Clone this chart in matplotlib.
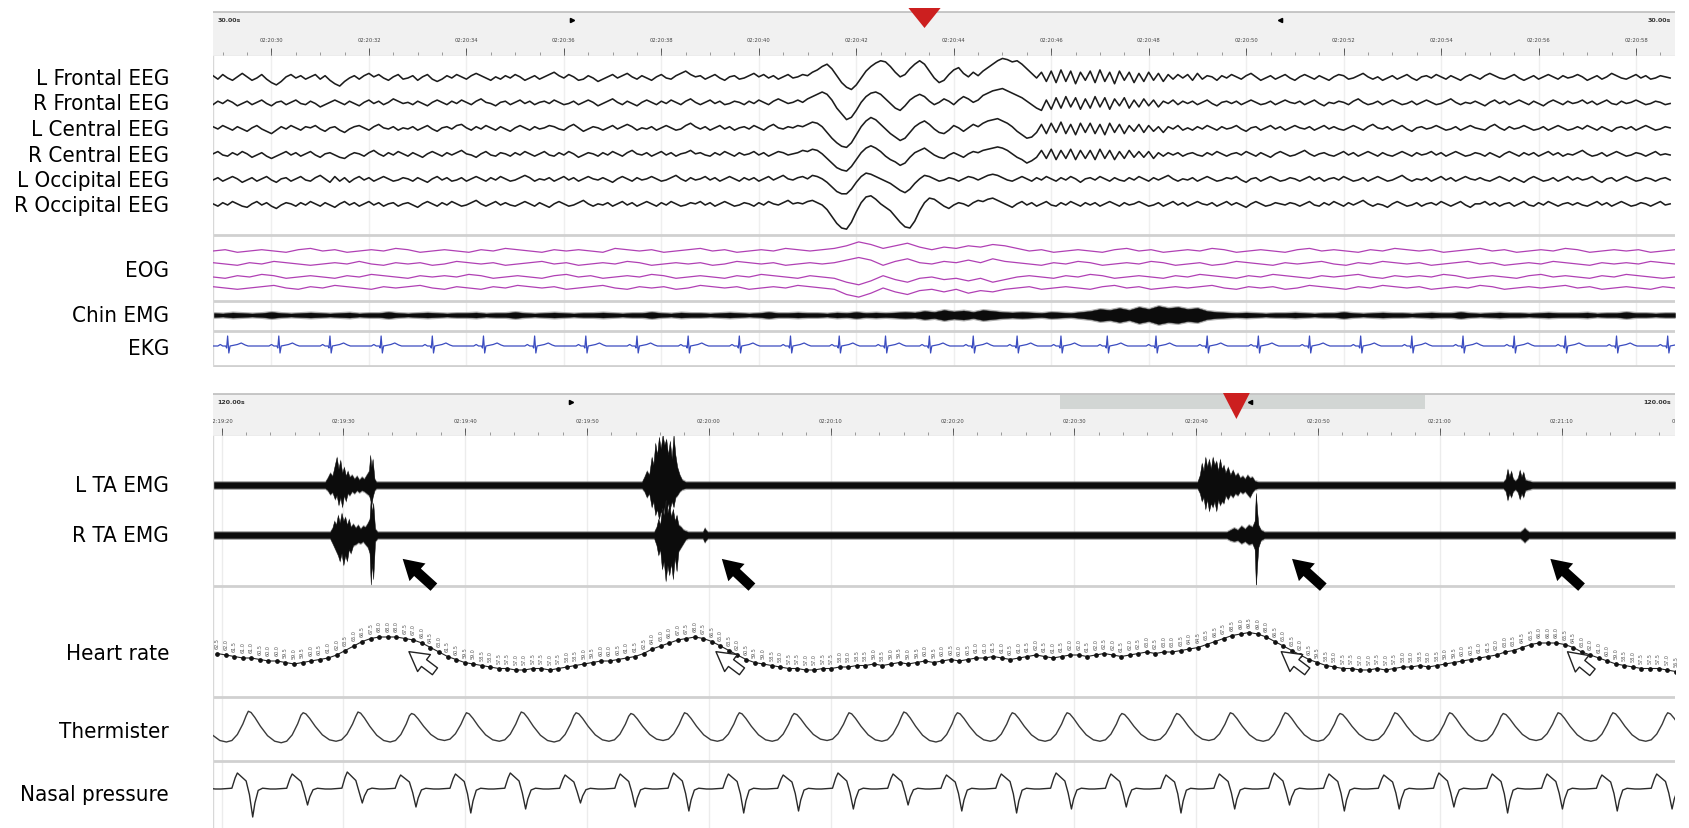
import numpy as np
import matplotlib.pyplot as plt
from matplotlib.patches import Polygon, Rectangle, FancyArrowPatch

plt.rcParams['font.family'] = ['DejaVu Sans']

# ---------------- data ----------------
top_labels = ['L Frontal EEG', 'R Frontal EEG', 'L Central EEG', 'R Central EEG',
              'L Occipital EEG', 'R Occipital EEG', 'EOG', 'Chin EMG', 'EKG']
bot_labels = ['L TA EMG', 'R TA EMG', 'Heart rate', 'Thermister', 'Nasal pressure']

# 30 s epoch, EEG one value every 0.1 s (up = positive, ~pixels)
eeg_lf = [2,-1,3,0,-2,1,4,1,-2,0, 3,-1,-4,-6,-3,1,3,0,2,-1, 1,3,-1,2,-2,-5,-7,-3,0,2,
          -1,2,4,1,3,0,-2,1,3,-1, 0,2,-2,1,3,-1,-3,-1,2,0, 3,1,-1,2,4,2,0,-2,1,-1,
          2,0,3,1,-2,0,2,-1,1,3, 5,2,0,3,1,-2,-1,2,0,-3, -1,1,3,0,2,4,1,-1,2,0,
          -2,1,3,0,-1,2,4,6,3,1, 2,-1,1,3,0,-2,1,2,-1,0, 2,4,1,3,0,2,-1,1,3,0,
          1,3,2,5,7,10,12,8,2,-4, -8,-10,-6,0,6,10,13,15,14,10, 5,1,3,8,12,15,12,6,0,-4,
          -2,3,7,9,4,1,5,2,6,9, 12,15,17,16,14,15,12,8,4,0, 5,-3,6,-4,7,-3,6,-5,5,-2,
          6,-4,7,-3,5,-5,6,-2,5,-4, 4,-3,5,-2,4,-3,3,-1,3,0, 3,-2,4,-1,2,1,-2,2,0,3,
          1,-1,2,4,1,-2,0,2,-1,1, 3,0,-2,1,3,1,-1,2,0,-2, 1,3,2,-1,0,2,4,1,-1,1,
          -2,0,2,-1,1,3,0,-2,1,2, 0,3,1,-1,2,0,-2,1,3,1, -1,2,4,2,0,-1,1,3,0,-2,
          0,2,-1,1,3,1,-1,2,0,1, 3,1,-2,0,2,-1,1,4,2,0, -1,1,3,0,2,-1,0,2,1,0]
eeg_rf = [-1,2,0,3,1,-2,0,2,-1,1, 3,0,-2,1,2,-1,1,3,0,-1, 2,0,-3,-1,1,3,1,-1,2,0,
          -2,1,3,0,2,-1,1,4,2,0, 1,-1,2,0,-2,1,3,1,-1,2, 0,3,1,-1,2,4,1,0,-2,1,
          2,-1,1,3,0,2,-1,1,2,0, 3,1,-1,0,2,-1,1,3,1,-2, 0,2,4,1,-1,2,0,-2,1,3,
          1,-1,2,0,3,1,-1,2,4,1, -1,1,3,0,2,-1,0,2,1,-1, 2,0,3,1,-1,2,4,2,0,1,
          3,1,4,6,8,10,8,3,-4,-9, -14,-12,-6,1,6,9,10,8,4,0, -4,-6,-2,3,6,8,6,2,-1,1,
          4,2,-1,3,6,4,1,3,7,9, 11,12,13,11,9,7,5,2,-1,-4, -6,3,-5,5,-4,6,-3,5,-5,4,
          -4,6,-3,5,-5,4,-2,5,-4,3, -3,4,-2,3,-3,2,0,3,-1,2, 0,2,-1,1,3,0,-2,1,2,0,
          2,-1,1,3,1,-1,0,2,-1,1, 3,1,0,2,-1,1,3,0,-2,1, 0,2,1,-1,2,4,1,-1,0,2,
          -1,1,3,1,-1,0,2,-1,1,3, 1,-1,0,2,4,1,-1,1,0,2, 0,-2,1,3,0,2,-1,1,3,1,
          -1,2,0,-2,1,3,1,-1,2,0, 1,3,0,2,-1,1,3,0,-1,2, 0,1,3,1,-1,0,2,1,-1,0]
eeg_lc = [2,0,3,1,-1,2,0,-2,1,3, 0,-2,-4,-1,2,0,3,1,-1,2, 1,3,0,-2,1,2,-1,-3,0,2,
          3,1,-1,2,4,1,0,2,-1,1, 0,2,-1,1,3,0,-2,1,2,0, 3,4,1,-1,2,0,3,1,-1,2,
          0,-2,1,3,1,-1,2,0,1,3, 2,0,-1,2,4,1,-2,0,2,1, -1,1,3,0,2,4,2,-1,1,0,
          2,-1,1,3,1,-1,0,3,5,2, 0,2,-1,1,3,0,2,-1,1,2, 0,3,1,-1,2,4,1,0,2,1,
          3,2,4,6,5,2,-3,-8,-12,-15, -16,-12,-5,2,7,10,8,4,0,-4, -7,-10,-8,-3,2,5,7,4,0,-3,
          -4,-1,3,1,-2,1,4,2,5,7, 8,9,7,5,2,-2,-5,-8,-7,-3, 4,-4,5,-3,6,-4,4,-5,5,-3,
          5,-4,4,-5,5,-3,4,-4,3,-2, 4,-3,3,-2,2,-3,2,0,3,-1, 1,-1,2,0,3,1,-1,2,0,1,
          3,0,-2,1,2,-1,1,3,0,2, -1,1,3,1,0,2,-1,1,3,0, 2,0,-1,1,3,1,-1,2,4,1,
          0,2,-1,1,3,0,-2,1,2,0, 1,3,1,-1,0,2,-1,1,3,1, 0,-1,2,4,1,-1,2,0,1,3,
          1,-1,0,2,-1,1,3,1,-1,0, 2,0,3,1,-1,2,0,-2,1,2, 0,2,-1,1,3,1,-1,0,2,1]
eeg_rc = [1,3,0,-1,2,0,3,1,-2,0, 2,-1,-3,-1,1,3,0,2,-1,1, 3,0,-2,1,2,0,-2,-3,0,2,
          1,-1,2,4,1,-1,2,0,3,1, -1,2,0,-2,1,3,1,-1,2,0, 2,4,1,0,-2,1,3,0,-1,2,
          1,-1,2,0,3,1,-1,1,3,0, -1,2,0,3,1,-2,0,2,1,-1, 2,0,3,1,-1,2,4,1,0,2,
          -1,1,3,0,2,-1,1,2,4,1, 2,0,-1,2,0,3,1,-1,2,0, 1,3,0,2,-1,1,3,2,0,1,
          2,4,3,5,4,1,-3,-7,-11,-13, -14,-10,-4,2,6,8,6,3,-1,-4, -6,-9,-7,-2,2,4,6,3,0,-2,
          -3,0,2,0,-2,1,3,2,4,5, 6,7,6,4,1,-2,-4,-7,-5,-2, 4,-3,5,-4,4,-3,5,-4,4,-3,
          4,-4,5,-3,4,-4,3,-3,4,-2, 3,-2,3,-3,2,-1,2,0,2,-1, 1,2,0,-1,2,0,3,1,-1,1,
          2,0,3,1,-1,2,0,-2,1,3, 1,-1,0,2,4,1,-1,1,2,0, -1,1,3,0,2,-1,1,3,1,-1,
          2,0,-1,1,3,1,-1,2,0,1, 3,0,2,-1,1,3,1,-1,0,2, 1,-1,2,0,-2,1,3,1,-1,2,
          0,2,-1,1,3,0,2,-1,1,0, 2,4,1,-1,0,2,-1,1,3,1, -1,0,2,1,-1,1,3,0,1,0]
eeg_lo = [0,2,-1,1,3,1,-2,0,2,-1, 1,3,0,-2,1,2,-1,1,3,0, -1,2,4,1,-2,3,-1,2,-2,1,
          3,0,2,-1,1,3,1,-1,0,2, 1,-1,2,0,-2,1,3,0,2,-1, 0,2,-1,1,3,1,-1,2,0,3,
          1,-1,0,2,4,2,-1,1,0,2, -1,1,3,0,2,-1,1,3,1,0, 2,0,-2,1,3,1,-1,2,0,1,
          3,1,-1,0,2,4,1,-1,2,0, 1,3,0,2,-1,1,3,1,-1,2, 0,2,-1,1,3,0,2,4,1,0,
          2,3,1,4,3,1,-2,-6,-10,-12, -12,-8,-2,3,6,5,3,1,-1,-3, -6,-9,-11,-8,-3,1,4,3,1,-1,
          0,2,1,-1,1,3,2,0,2,4, 5,4,2,0,-1,1,3,1,-1,2, 0,3,1,-1,2,0,3,1,-2,1,
          2,0,3,1,-1,2,0,-1,2,0, 3,1,-1,2,0,2,4,1,-1,1, 0,2,-1,1,3,1,-1,0,2,1,
          3,0,-2,1,2,-1,1,3,1,-1, 0,2,1,-1,1,3,0,2,-1,1, 2,0,3,1,-1,0,2,-1,1,3,
          1,-1,0,2,4,1,-1,1,0,2, -1,1,3,0,2,-1,1,3,1,0, 2,0,-1,1,3,1,-1,2,0,-2,
          1,3,1,-1,0,2,-1,1,3,0, 2,0,1,3,0,-2,1,2,-1,1, 3,1,-1,0,2,1,-1,1,2,0]
eeg_ro = [1,-1,2,0,3,1,-1,-2,1,3, 0,2,-1,-3,0,2,1,-1,2,0, 3,1,-1,2,0,-2,1,3,0,2,
          -1,1,3,0,2,-1,1,2,-1,1, 2,0,-2,1,3,1,-1,2,0,3, 1,-1,0,2,4,1,-1,1,3,0,
          2,0,-1,1,3,1,-1,2,0,-2, 1,3,1,-1,0,2,4,1,-1,1, 0,2,-1,1,3,0,2,-1,1,3,
          1,-1,2,0,3,1,-1,0,2,1, 3,0,2,-1,1,3,1,-1,0,2, 1,-1,2,0,3,1,0,2,4,1,
          2,1,3,4,2,0,-4,-10,-16,-20, -21,-15,-6,2,7,8,5,1,-2,-5, -10,-15,-19,-20,-14,-5,2,6,5,2,
          -1,-3,0,2,1,-1,2,4,3,5, 6,4,2,0,-2,1,3,0,2,-1, 1,3,0,-1,2,0,3,1,-1,2,
          0,2,-1,1,3,1,-1,2,0,1, 3,1,-1,0,2,-1,1,3,0,2, -1,1,3,1,0,2,-1,1,3,0,
          2,0,-2,1,3,1,-1,0,2,1, 0,2,1,-1,1,3,0,-1,2,0, 3,1,-1,2,0,2,4,1,-1,1,
          0,-2,1,3,1,-1,0,2,-1,1, 2,0,3,1,-1,1,3,0,-2,1, 1,3,0,2,-1,1,2,-1,1,3,
          0,-1,2,0,3,1,-1,1,2,0, 2,0,-1,1,3,0,2,-1,1,3, 1,-1,0,2,1,-1,1,3,0,1]

# EOG, one value every 0.25 s
eog_1 = [0,1,-1,0,1,0,-1,1,2,0, 1,-1,0,1,0,2,1,-1,0,1, 0,-1,1,0,2,1,0,-1,1,0, 1,0,-1,2,1,0,1,-1,0,1,
         2,0,1,-1,0,1,0,2,1,0, 1,2,4,7,5,2,4,6,3,1, 3,2,4,3,5,4,2,0,1,-1, 0,1,0,-1,1,2,0,1,-1,0,
         1,0,2,1,-1,0,1,0,-1,1, 2,0,1,0,-1,1,0,2,1,0, 1,-1,0,1,2,0,1,-1,0,1, 0,2,1,-1,0,1,0,1,-1,0, 1]
eog_2 = [1,0,-1,1,0,2,1,0,-1,0, 1,0,2,0,-1,1,0,1,-1,0, 2,1,0,1,-1,0,1,2,0,1, -1,0,1,0,2,1,-1,0,1,0,
         1,-1,0,2,1,0,1,-1,0,1, 0,1,3,5,3,-1,2,4,1,0, 2,1,3,1,4,2,1,0,-1,1, 0,2,1,-1,0,1,0,2,1,-1,
         0,1,-1,0,2,1,0,-1,1,0, 1,2,0,-1,1,0,2,1,0,1, -1,0,1,2,0,1,-1,0,1,0, 2,1,0,-1,1,0,1,0,2,1, 0]
eog_3 = [0,-1,1,0,2,1,-1,0,1,0, -1,1,0,2,1,0,-1,1,0,1, 0,2,1,-1,0,1,0,-1,1,2, 0,1,-1,0,1,0,2,1,-1,0,
         1,0,-1,1,0,2,1,0,-1,1, 0,-1,-4,-6,-3,1,-2,-4,-1,0, -2,-1,-3,-1,-4,-2,0,1,0,-1, 1,0,2,1,-1,0,1,0,-1,1,
         0,2,1,0,-1,1,0,2,1,0, -1,1,0,1,2,0,-1,1,0,1, 0,2,1,-1,0,1,0,-1,1,2, 0,1,0,-1,1,0,2,1,0,-1, 0]
eog_4 = [1,0,-1,0,1,2,0,-1,1,0, 2,1,0,-1,1,0,1,2,0,-1, 1,0,-1,1,0,2,1,0,1,-1, 0,1,2,0,-1,1,0,1,-1,0,
         2,1,0,1,-1,0,1,0,2,1, 0,-1,-5,-7,-4,0,-3,-5,-2,-1, -3,-1,-4,-2,-3,-1,0,1,-1,0, 1,0,-1,1,2,0,1,-1,0,1,
         0,1,2,0,-1,1,0,1,-1,0, 2,1,0,-1,1,0,2,1,0,1, -1,0,1,0,2,1,-1,0,1,0, 1,2,0,1,-1,0,1,0,-1,1, 0]

# chin EMG envelope (half width), every 0.2 s
chin_env = [2,1.5,2.5,2,1.5,2,3,2,1.5,2, 2.5,2,1.5,2,2.5,1.5,2,2,3,2, 1.5,2,2.5,2,1.5,2,2,2.5,1.5,2,
            2,3,2,1.5,2,2.5,2,1.5,2,2, 2.5,2,1.5,2,2,3,2,1.5,2.5,2, 2,1.5,2,2.5,2,1.5,2,3,2,2,
            2.5,2,2,1.5,2.5,2,3,2,2.5,2, 2.5,3,2.5,4,3,5,3.5,4.5,3,5, 4,3,2.5,3,2.5,2,3,2.5,2,3,
            4,6,5,7,5,8,6,9,7,8, 6,7,4,3,2.5,2,2.5,2,1.5,2, 2,2.5,2,1.5,2,2,3,2,1.5,2,
            2.5,2,2,1.5,2,2.5,2,2,3,2, 1.5,2,2.5,2,2,1.5,2,2.5,2,2, 2,2.5,1.5,2,2,3,2,2,1.5,2,2]

# EKG R-peak times (s) and one beat shape
ekg_beats = [0.3,1.35,2.4,3.45,4.5,5.55,6.6,7.65,8.7,9.75,10.8,11.85,12.85,13.8,14.7,15.6,16.5,
             17.4,18.35,19.35,20.4,21.45,22.5,23.55,24.6,25.65,26.7,27.75,28.8,29.85]
ekg_dt = [-0.38,-0.2,-0.15,-0.1,-0.04,-0.02,0.0,0.025,0.05,0.1,0.2,0.28,0.36,0.42]
ekg_shape = [0,0,1.5,0,0,-2,10,-7,0,0.5,1.5,3,1,0]

# 120 s window: tibialis EMG envelopes (time, up, down)
lta_t = [0,9.2,9.4,9.6,9.8,10.0,10.15,10.3,10.45,10.6,10.75,10.9,11.05,11.2,11.4,11.6,11.8,12.0,12.2,12.4,12.6,12.8,12.9,13.0,13.1,13.25,13.4,
         35.2,35.4,35.6,35.8,36.0,36.15,36.3,36.45,36.6,36.75,36.9,37.05,37.2,37.35,37.5,37.65,37.8,37.95,38.1,38.3,38.5,38.8,
         80.8,81.0,81.15,81.3,81.45,81.6,81.75,81.9,82.05,82.2,82.35,82.5,82.65,82.8,82.95,83.1,83.3,83.5,83.7,83.9,84.1,84.3,84.5,84.7,84.9,85.1,85.3,85.5,85.8,
         105.9,106.1,106.25,106.4,106.55,106.7,106.9,107.1,107.25,107.4,107.55,107.7,108.0,108.3,120]
lta_up = [3,3,7,12,9,20,28,16,25,12,18,9,14,8,10,6,9,5,8,6,10,14,30,18,26,6,3,
          3,8,14,10,28,20,42,30,48,36,50,40,46,30,44,26,50,30,18,10,5,3,
          3,10,22,14,28,18,26,16,28,20,24,14,26,16,20,12,18,10,15,9,12,7,9,6,10,7,8,4,3,
          3,6,16,8,14,6,4,7,15,8,13,5,4,3,3]
lta_dn = [3,3,5,9,7,14,10,20,12,22,10,16,8,10,6,8,5,7,5,6,8,10,14,20,12,5,3,
          3,6,12,8,22,16,30,24,34,26,30,22,30,18,24,16,22,12,10,6,4,3,
          3,8,16,12,24,14,26,18,22,16,26,14,20,16,18,10,14,9,12,8,10,6,8,6,9,12,7,4,3,
          3,6,15,8,12,6,4,7,14,8,12,5,4,3,3]
rta_t = [0,9.6,9.8,9.95,10.1,10.25,10.4,10.55,10.7,10.85,11.0,11.15,11.3,11.5,11.7,11.9,12.1,12.3,12.5,12.7,12.85,12.95,13.05,13.15,13.3,13.5,
         36.2,36.4,36.55,36.7,36.85,37.0,37.15,37.3,37.45,37.6,37.75,37.9,38.05,38.2,38.4,38.6,38.8,39.0,40.2,40.35,40.45,40.6,
         83.2,83.5,83.8,84.1,84.4,84.7,85.0,85.3,85.5,85.6,85.7,85.8,86.0,86.3,
         107.3,107.5,107.65,107.8,108.0,120]
rta_up = [3,3,7,14,10,20,12,22,14,18,10,16,8,11,7,10,6,9,8,12,16,38,22,32,6,3,
          3,8,16,10,26,20,34,22,30,18,26,14,20,10,8,5,4,3,3,7,5,3,
          3,5,7,5,9,6,10,8,14,42,24,10,5,3,
          3,5,7,5,3,3]
rta_dn = [3,3,8,12,16,20,26,18,30,20,26,14,18,10,9,7,8,6,9,12,18,50,28,44,6,3,
          3,10,20,14,34,26,46,30,40,28,44,22,36,16,12,8,4,3,3,7,5,3,
          3,5,6,5,8,6,9,8,14,52,30,12,5,3,
          3,5,7,5,3,3]

# heart rate (bpm), one value every 0.7 s
hr = [62.5,62,61.5,61,61,60.5,60,60, 59.5,59,59.5,60,60.5,61, 62,63.5,65,
      66.5,67.5,68,68,68,67.5, 67,66,64.5,63,61.5, 60.5,59.5,59,58.5,58,57.5,57.5,57,
      57,57.5,57.5,57,57.5,58,58.5, 59,59.5,60,60,60.5,61,61.5, 62.5,64,65,66,67,67.5,
      68,67.5,66.5, 65,63.5,62,60.5,59.5,59,58.5, 58,57.5,57.5,57,57,57.5,57.5,58,
      58,58.5,58.5,59,58.5,59,59.5,59,59.5,60,59.5,60,60.5,60,60.5,61,
      61,61.5,61,60.5,61,61.5,62,61.5,61,61.5,62,62,61.5,62,62.5,62,61.5,62,62.5,63,62.5,63,63,63.5,
      64,64.5,65.5,66.5,67.5,68.5,69,69.5,69,68, 66.5,65,63.5,62,60.5,59.5,58.5,58,57.5,
      57.5,57,57,57.5,57,57.5,58,58,58.5,58,58.5,59,59.5,60,60.5,
      61,61.5,62,63,63.5,64.5,65.5,66,66,66,65.5, 64.5,63,62,61,60,59,58.5,58,57.5,57.5,57.5,57,56.5]

# breathing: thermistor peak times (s) and per-breath amplitudes
breath_peaks = [-1.6,2.9,7.4,11.9,16.3,20.8,25.3,29.8,34.3,38.7,43.2,47.7,52.2,56.7,61.1,65.6,
                70.1,74.6,79.1,83.5,88.0,92.5,97.0,101.5,105.9,110.4,114.9,119.4,123.9]
therm_amp = [1.0,1.05,0.95,1.0,0.9,0.95,1.0,0.95,0.9,0.95,0.95,0.9,0.95,1.0,0.95,0.95,0.95,
             0.9,0.9,0.95,0.95,0.9,0.95,0.95,0.9,0.95,0.95,0.95]
therm_frac = [0,0.05,0.12,0.22,0.35,0.48,0.6,0.7,0.8,0.9,0.96]
therm_shape = [1,0.92,0.6,0.05,-0.55,-0.9,-1.0,-0.9,-0.5,0.2,0.75]
nasal_up = [15,16,15,17,14,15,16,14,15,16,15,14,16,15,14,15,16,15,14,15,16,15,14,16,15,15,14,15]
nasal_dn = [28,28,16,14,18,24,20,14,18,22,24,22,20,16,22,24,20,18,24,20,16,22,20,18,24,20,22,20]
nasal_frac = [-0.5,-0.3,-0.24,-0.2,-0.12,-0.04,0.02,0.08,0.12,0.18,0.26,0.4]
nasal_shape = [0,0.05,0.7,1.0,0.75,0.5,-0.2,-1.0,-0.5,-0.05,0.05,0.0]

top_ticks = ['02:20:%02d' % s for s in range(30, 60, 2)]
bot_ticks = ['02:19:20', '02:19:30', '02:19:40', '02:19:50', '02:20:00', '02:20:10', '02:20:20',
             '02:20:30', '02:20:40', '02:20:50', '02:21:00', '02:21:10', '02:21:20']

# ---------------- layout (figure pixels) ----------------
W, H = 1689, 829
X0, X1 = 213, 1675
fig = plt.figure(figsize=(W / 100, H / 100), dpi=100)


def panel(top, bottom, span):
    ax = fig.add_axes([X0 / W, 1 - bottom / H, (X1 - X0) / W, (bottom - top) / H])
    ax.set_xlim(0, span)
    ax.set_ylim(bottom, top)
    ax.axis('off')
    return ax


def header(top, bottom, span, tick_t, tick_lab, minor, title, marks, tri, tri_w, tri_y, sel=None):
    ax = panel(top, bottom, span)
    body = top + 3
    ax.add_patch(Rectangle((0, body), span, bottom - body, color='#f1f1f1', lw=0))
    ax.plot([0, span], [body, body], color='#bdbdbd', lw=1.2)
    ax.plot([0, span], [bottom - 0.5, bottom - 0.5], color='#9c9c9c', lw=0.8)
    if sel:
        ax.add_patch(Rectangle((sel[0], body + 1), sel[1] - sel[0], 14, color='#d2d6d4', lw=0))
    ax.text(span * 0.003, body + 8, title, fontsize=4.5, weight='bold', va='center', color='#333')
    ax.text(span * 0.997, body + 8, title, fontsize=4.5, weight='bold', va='center', ha='right', color='#333')
    ax.plot(marks[0], body + 8, marker='>', ms=3, color='k')
    ax.plot(marks[1], body + 8, marker='<', ms=3, color='k')
    for t, s in zip(tick_t, tick_lab):
        ax.text(t, body + 27, s, fontsize=3.8, ha='center', va='center', color='#444', clip_on=True)
    ax.vlines(tick_t, bottom - 8, bottom - 1, color='#555', lw=0.7)
    ax.vlines(minor, bottom - 4, bottom - 1, color='#777', lw=0.5)
    ax.add_patch(Polygon([(tri - tri_w, tri_y[0]), (tri + tri_w, tri_y[0]), (tri, tri_y[1])],
                         color='#cc1f1f', lw=0, zorder=5, clip_on=False))
    return ax


def emg_band(ax, t, up, dn, base):
    up = np.array(up, float)
    dn = np.array(dn, float)
    ax.fill_between(t, base - up - 1.5, base + dn + 1.5, color='#7a7a7a', lw=0, alpha=0.6)
    ax.fill_between(t, base - up, base + dn, color='#0c0c0c', lw=0.3)


# top header (30 s)
t30_ticks = 1.2 + 2 * np.arange(len(top_ticks))
header(10, 57, 30, t30_ticks, top_ticks, np.arange(0.2, 30, 0.5), '30.00s',
       (7.37, 21.9), 14.6, 0.33, (9, 29))

# top traces
ax = panel(57, 368, 30)
for t in t30_ticks:
    ax.axvline(t, color='#efefef', lw=1, zorder=0)
for y in [236, 302, 332, 367]:
    ax.plot([0, 30], [y, y], color='#d0d0d0', lw=2)
ax.plot([0, 0], [57, 368], color='#d8d8d8', lw=1)

eeg = [eeg_lf, eeg_rf, eeg_lc, eeg_rc, eeg_lo, eeg_ro]
eeg_base = [79, 104.5, 130, 156, 181, 206]
for sig, b in zip(eeg, eeg_base):
    v = np.array(sig, float)
    ax.plot(np.arange(len(v)) * 0.1, b - 1.15 * v, color='#1c1c1c', lw=1.15)

eog_base = [252, 265, 278, 289]
for sig, b in zip([eog_1, eog_2, eog_3, eog_4], eog_base):
    v = np.array(sig, float)
    ax.plot(np.arange(len(v)) * 0.25, b - 1.3 * v, color='#b040b4', lw=0.9)

emg_band(ax, np.arange(len(chin_env)) * 0.2, chin_env, chin_env, 316)

ek_t, ek_v = [], []
for b in ekg_beats:
    ek_t += [b + d for d in ekg_dt]
    ek_v += ekg_shape
ax.plot(ek_t, 347 - np.array(ek_v, float), color='#3b4cc0', lw=0.9)

# bottom header (120 s)
t120_ticks = 0.7 + 10 * np.arange(len(bot_ticks))
header(392, 437, 120, t120_ticks, bot_ticks, np.arange(0.7, 120, 2), '120.00s',
       (29.4, 85.1), 84.0, 1.1, (394, 420), sel=(69.5, 99.5))

# bottom traces
ax = panel(437, 829, 120)
for t in t120_ticks:
    ax.axvline(t, color='#ececec', lw=1, zorder=0)
for y in [587, 698, 762]:
    ax.plot([0, 120], [y, y], color='#d0d0d0', lw=2)
ax.plot([0, 0], [437, 829], color='#d8d8d8', lw=1)

emg_band(ax, lta_t, lta_up, lta_dn, 486)
emg_band(ax, rta_t, rta_up, rta_dn, 536)

for tip, tail in [((15.4, 558), (18.3, 590)), ((41.6, 558), (44.4, 590)),
                  ((88.4, 558), (91.3, 590)), ((109.6, 558), (112.5, 590))]:
    ax.add_patch(FancyArrowPatch(tail, tip, arrowstyle='simple,head_width=0.95,head_length=0.8,tail_width=0.4',
                                 mutation_scale=18, color='k', lw=0, zorder=6))

hr_t = 0.35 + 0.7 * np.arange(len(hr))
hr_y = 662 - (np.array(hr) - 60) * 3
ax.plot(hr_t, hr_y, color='#222', lw=0.8, marker='o', ms=2.4, mfc='#111', mec='#111')
for t, y, v in zip(hr_t, hr_y, hr):
    ax.text(t, y - 11, '%.1f' % v, fontsize=3.5, rotation=90, ha='center', va='center', color='#555')

for tip, tail in [((15.9, 651), (18.4, 674)), ((41.1, 651), (43.6, 674)),
                  ((87.5, 651), (90.0, 674)), ((111.0, 651), (113.4, 675))]:
    ax.add_patch(FancyArrowPatch(tail, tip, arrowstyle='simple,head_width=0.9,head_length=0.8,tail_width=0.36',
                                 mutation_scale=17, fc='white', ec='#222', lw=1.0, zorder=6))

th_t, th_v, na_t, na_v = [], [], [], []
for i in range(len(breath_peaks) - 1):
    p0, c = breath_peaks[i], breath_peaks[i + 1] - breath_peaks[i]
    th_t += [p0 + f * c for f in therm_frac]
    th_v += [s * therm_amp[i] for s in therm_shape]
    na_t += [p0 + f * c for f in nasal_frac]
    na_v += [s * (nasal_up[i] if s > 0 else nasal_dn[i]) for s in nasal_shape]
ax.plot(th_t, 728 - 15 * np.array(th_v), color='#3a3a3a', lw=1.0)
ax.plot(na_t, 790 - np.array(na_v), color='#2a2a2a', lw=1.0)

# channel names
lab_y = [79, 104.5, 130, 156, 181, 206, 271, 316, 349]
for s, y in zip(top_labels, lab_y):
    fig.text(169 / W, 1 - y / H, s, ha='right', va='center', fontsize=16, fontstretch='condensed')
for s, y in zip(bot_labels, [486, 536, 654, 732, 795]):
    fig.text(169 / W, 1 - y / H, s, ha='right', va='center', fontsize=16, fontstretch='condensed')

fig.savefig('out.png', dpi=100)
